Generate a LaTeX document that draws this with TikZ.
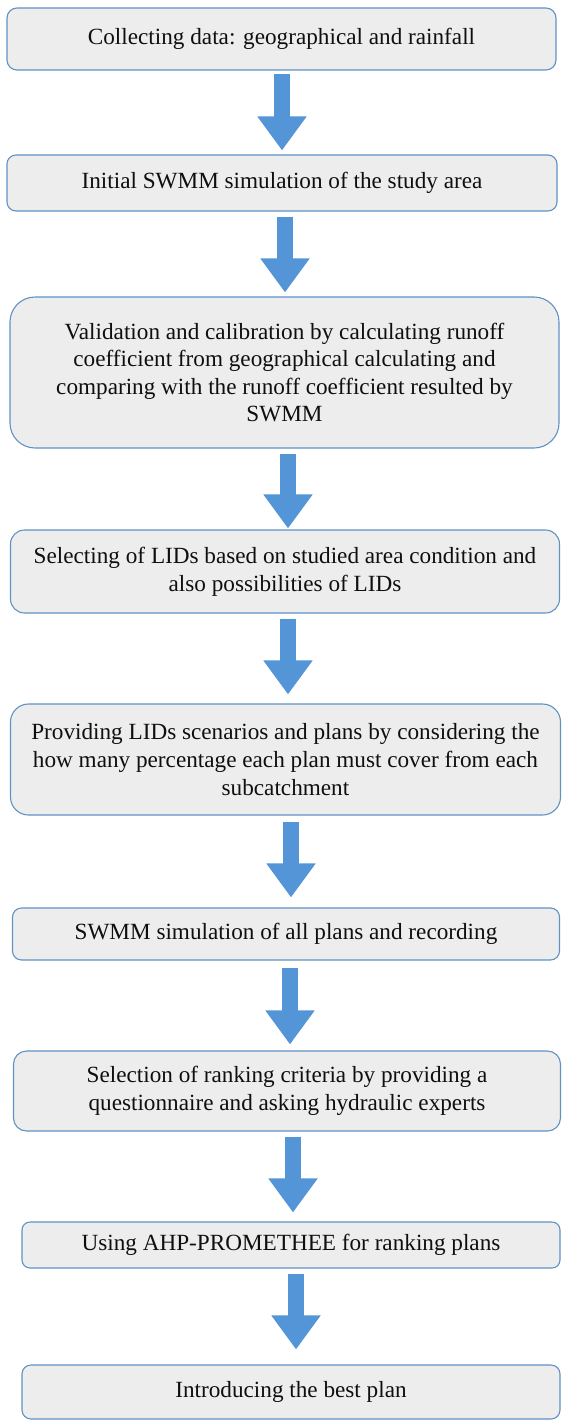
\documentclass[tikz,border=0pt]{standalone}
\usepackage{fontspec}
\setmainfont{Liberation Serif}
\usetikzlibrary{arrows.meta,calc}
\definecolor{boxfill}{RGB}{237,237,237}
\definecolor{boxline}{RGB}{96,146,196}
\definecolor{arrfill}{RGB}{83,149,215}
\definecolor{txt}{RGB}{15,15,15}
\tikzset{
  stepbox/.style={draw=boxline, line width=1.1pt, fill=boxfill, text=txt,
    align=center, inner sep=0pt,
    font=\fontsize{23.2}{27.6}\selectfont},
  blockarrow/.style={draw=arrfill, line width=16pt,
    -{Triangle[width=47pt,length=34pt]}, arrfill}
}
\begin{document}
\begin{tikzpicture}[x=1pt,y=-1pt]
\useasboundingbox (0,0) rectangle (563,1421);
% boxes: centre, width, height, radius
\node[stepbox, minimum width=549pt, minimum height=62pt, rounded corners=10pt] (b1) at (281.5,39)
  {Collecting data: geographical and rainfall};
\node[stepbox, minimum width=550pt, minimum height=56pt, rounded corners=9pt] (b2) at (282,183)
  {Initial SWMM simulation of the study area};
\node[stepbox, minimum width=549pt, minimum height=151pt, rounded corners=25pt] (b3) at (284.5,372.5)
  {Validation and calibration by calculating runoff\\coefficient from geographical calculating and\\comparing with the runoff coefficient resulted by\\SWMM};
\node[stepbox, minimum width=549pt, minimum height=83pt, rounded corners=14pt] (b4) at (285,571.5)
  {Selecting of LIDs based on studied area condition and\\also possibilities of LIDs};
\node[stepbox, minimum width=550pt, minimum height=111pt, rounded corners=18pt] (b5) at (285.5,759.5)
  {Providing LIDs scenarios and plans by considering the\\how many percentage each plan must cover from each\\subcatchment};
\node[stepbox, minimum width=547pt, minimum height=52pt, rounded corners=9pt] (b6) at (286,934)
  {SWMM simulation of all plans and recording};
\node[stepbox, minimum width=547pt, minimum height=80pt, rounded corners=13pt] (b7) at (287,1091)
  {Selection of ranking criteria by providing a\\questionnaire and asking hydraulic experts};
\node[stepbox, minimum width=538pt, minimum height=46pt, rounded corners=8pt] (b8) at (291,1245)
  {Using AHP-PROMETHEE for ranking plans};
\node[stepbox, minimum width=538pt, minimum height=54pt, rounded corners=9pt] (b9) at (291,1392)
  {Introducing the best plan};
% arrows
\draw[blockarrow, shorten <=3pt, shorten >=4pt] ([xshift=0.5pt]b1.south) -- ([xshift=0.5pt]b1.south |- b2.north);
\draw[blockarrow, shorten <=5pt, shorten >=4pt] ([xshift=3pt]b2.south) -- ([xshift=3pt]b2.south |- b3.north);
\draw[blockarrow, shorten <=5pt, shorten >=1pt] ([xshift=3.5pt]b3.south) -- ([xshift=3.5pt]b3.south |- b4.north);
\draw[blockarrow, shorten <=5pt, shorten >=9pt] ([xshift=3pt]b4.south) -- ([xshift=3pt]b4.south |- b5.north);
\draw[blockarrow, shorten <=6pt, shorten >=10pt] ([xshift=5.5pt]b5.south) -- ([xshift=5.5pt]b5.south |- b6.north);
\draw[blockarrow, shorten <=7pt, shorten >=6pt] ([xshift=4pt]b6.south) -- ([xshift=4pt]b6.south |- b7.north);
\draw[blockarrow, shorten <=5pt, shorten >=9pt] ([xshift=6pt]b7.south) -- ([xshift=6pt]b7.south |- b8.north);
\draw[blockarrow, shorten <=5pt, shorten >=15pt] ([xshift=5pt]b8.south) -- ([xshift=5pt]b8.south |- b9.north);
\end{tikzpicture}
\end{document}
